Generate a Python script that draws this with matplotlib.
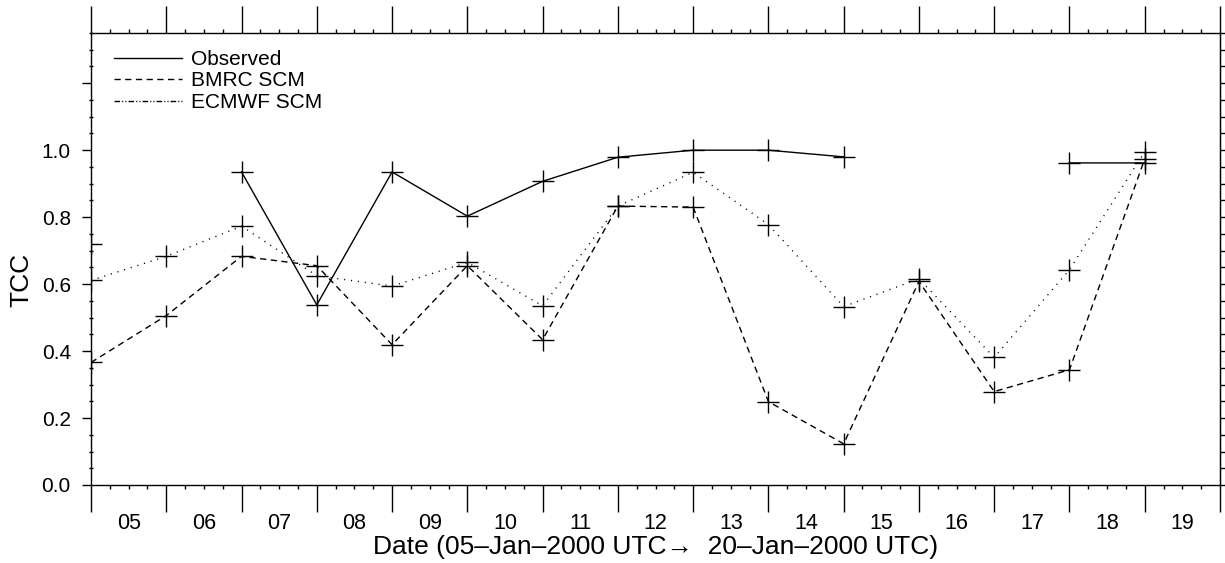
import numpy as np
import matplotlib
matplotlib.use("Agg")
import matplotlib.pyplot as plt
from matplotlib.lines import Line2D
from matplotlib.ticker import MultipleLocator, FuncFormatter

plt.rcParams['font.family'] = ['Liberation Sans', 'DejaVu Sans']

# ---- data ----
days = ["05", "06", "07", "08", "09", "10", "11", "12", "13", "14",
        "15", "16", "17", "18", "19"]
observed = [0.72, np.nan, 0.935, 0.538, 0.935, 0.803, 0.907, 0.979, 1.0,
            1.0, 0.98, np.nan, np.nan, 0.962, 0.962]
bmrc = [0.366, 0.506, 0.683, 0.655, 0.419, 0.655, 0.434, 0.833, 0.83,
        0.249, 0.123, 0.608, 0.279, 0.344, 0.974]
ecmwf = [0.611, 0.683, 0.773, 0.625, 0.594, 0.665, 0.535, 0.833, 0.934,
         0.778, 0.533, 0.616, 0.381, 0.643, 0.995]
series_labels = ["Observed", "BMRC SCM", "ECMWF SCM"]
xlabel = "Date (05\u2013Jan\u20132000 UTC\u2192  20\u2013Jan\u20132000 UTC)"
ylabel = "TCC"

x = np.arange(len(days))

fig = plt.figure(figsize=(12.25, 5.63), dpi=100)
ax = fig.add_axes([91/1225, 78/563, 1129/1225, 452/563])

mk = dict(marker='+', markersize=16, markeredgewidth=1.0, color='black')
ax.plot(x, observed, linestyle='-', linewidth=1.0, **mk)
ax.plot(x, bmrc, linestyle=(0, (4.5, 3.2)), linewidth=1.0, **mk)
ax.plot(x, ecmwf, linestyle=(0, (0.8, 4.2)), linewidth=1.0, **mk)

ax.set_xlim(0, 15)
ax.set_ylim(0, 1.35)

# x ticks
ax.xaxis.set_major_locator(MultipleLocator(1))
ax.xaxis.set_minor_locator(MultipleLocator(0.25))
ax.tick_params(axis='x', which='major', direction='out', length=19.5,
               width=1.0, top=True, bottom=True, labelbottom=False)
ax.tick_params(axis='x', which='minor', direction='out', length=3.2,
               width=1.0, top=True, bottom=True)

# day labels centred between ticks
sec = ax.secondary_xaxis('bottom')
sec.set_xticks(x + 0.5)
sec.set_xticklabels(days)
sec.tick_params(length=0, pad=20, labelsize=15.5)
sec.spines['bottom'].set_visible(False)
sec.set_xlabel(xlabel, fontsize=19, labelpad=1)

# y ticks
ax.yaxis.set_major_locator(MultipleLocator(0.2))
ax.yaxis.set_minor_locator(MultipleLocator(0.05))
ax.yaxis.set_major_formatter(FuncFormatter(lambda v, p: f"{v:.1f}" if v <= 1.001 else ""))
ax.tick_params(axis='y', which='major', direction='out', length=6.5,
               width=1.0, labelsize=15, pad=8, right=False)
ax.tick_params(axis='y', which='minor', direction='inout', length=3.5,
               width=1.0, right=False)
ax.set_ylabel(ylabel, fontsize=19)
ax.yaxis.set_label_coords(-0.0514, 0.4535)

secy = ax.secondary_yaxis('right')
secy.yaxis.set_major_locator(MultipleLocator(0.05))
secy.tick_params(direction='out', length=3.5, width=1.0, labelright=False)

for s in ax.spines.values():
    s.set_linewidth(1.0)

handles = [Line2D([], [], color='black', linewidth=1.0, linestyle='-'),
           Line2D([], [], color='black', linewidth=1.0, linestyle=(0, (4.5, 3.2))),
           Line2D([], [], color='black', linewidth=1.0,
                  linestyle=(0, (4, 1.5, 0.8, 1.5, 0.8, 1.5)))]
ax.legend(handles, series_labels, loc='upper left', frameon=False,
          fontsize=15, handlelength=3.27, handletextpad=0.43,
          labelspacing=0.12, borderpad=0, borderaxespad=0,
          bbox_to_anchor=(0.0204, 0.9626))

fig.savefig("out.png", dpi=100)
